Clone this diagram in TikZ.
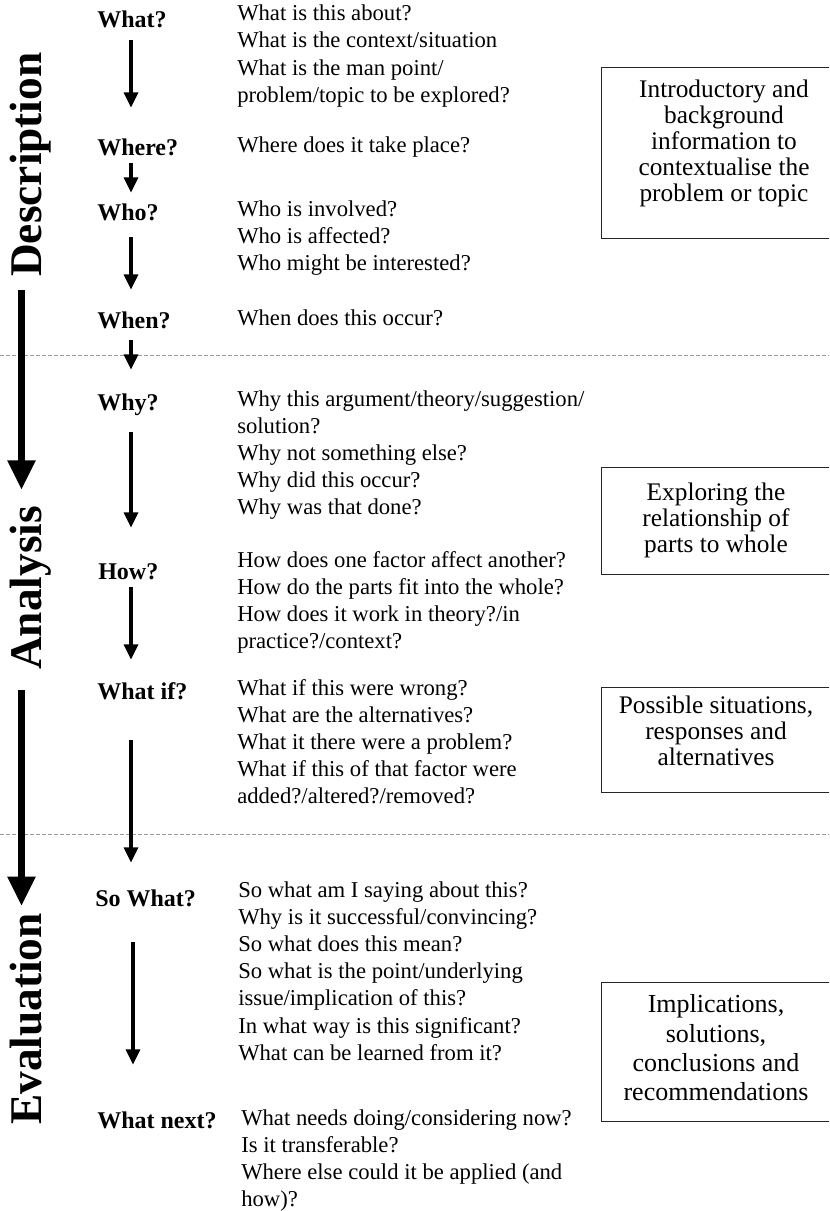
\documentclass[tikz,border=0pt]{standalone}
\usepackage{fontspec}
\setmainfont{Liberation Serif}
\usetikzlibrary{arrows.meta,calc}
\begin{document}
\begin{tikzpicture}[x=0.75pt,y=-0.75pt,
  stage/.style={rotate=90, anchor=base west, inner sep=0pt,
    font=\fontsize{34}{40}\selectfont\bfseries},
  question/.style={anchor=base west, inner sep=0pt, text height=13pt, text depth=0pt,
    font=\fontsize{18}{21}\selectfont\bfseries},
  % multi-line nodes sit on the baseline of their last line
  answers/.style={anchor=base west, inner sep=0pt, align=left,
    font=\fontsize{17}{20.4}\selectfont},
  summary/.style={anchor=base, inner sep=0pt, align=center,
    font=\fontsize{19}{19.5}\selectfont},
  infobox/.style={draw=black!85, line width=1.1pt, anchor=north west, inner sep=0pt,
    minimum width=185.25pt},
  stagearrow/.style={line width=5pt, -{Triangle[width=20pt,length=22pt]}},
  qarrow/.style={line width=2.4pt, -{Triangle[width=10.5pt,length=11.5pt]}},
  divider/.style={draw=black!40, line width=0.75pt, dash pattern=on 3pt off 1.5pt}
]
\clip (0,0) rectangle (829,1211);

% section dividers
\draw[divider] (0,355) -- (829,355);
\draw[divider] (0,834) -- (829,834);

% stage labels down the left margin
\node[stage] (desc) at (41,277) {Description};
\node[stage] (anal) at (41,670) {Analysis};
\node[stage] (eval) at (41,1125) {Evaluation};
\draw[stagearrow] ($(desc.base west)+(-19.5,13)$) -- ($(anal.base east)+(-19.5,-16)$);
\draw[stagearrow] ($(anal.base west)+(-19.5,20)$) -- ($(eval.base east)+(-19.5,-7)$);

% guiding questions
\coordinate (ax) at (131,0);
\node[question] (what)   at (97,27)   {What?};
\node[question] (where)  at (97,155)  {Where?};
\node[question] (who)    at (97,220)  {Who?};
\node[question] (when)   at (97,328)  {When?};
\node[question] (why)    at (97,410)  {Why?};
\node[question] (how)    at (98,579)  {How?};
\node[question] (whatif) at (97,699)  {What if?};
\node[question] (sowhat) at (95,906)  {So What?};
\node[question] (next)   at (97,1128) {What next?};

\draw[qarrow] ($(what.south-|ax)+(0,13)$)   -- ($(where.north-|ax)+(0,-29.7)$);
\draw[qarrow] ($(where.south-|ax)+(0,8)$)   -- ($(who.north-|ax)+(0,-9.7)$);
\draw[qarrow] ($(who.south-|ax)+(0,17)$)    -- ($(when.north-|ax)+(0,-20.7)$);
\draw[qarrow] ($(when.south-|ax)+(0,12)$)   -- ($(why.north-|ax)+(0,-22.7)$);
\draw[qarrow] ($(why.south-|ax)+(0,22)$)    -- ($(how.north-|ax)+(0,-33.7)$);
\draw[qarrow] ($(how.south-|ax)+(0,8)$)     -- ($(whatif.north-|ax)+(0,-21.7)$);
\draw[qarrow] ($(whatif.south-|ax)+(0,41)$) -- ($(sowhat.north-|ax)+(0,-25.7)$);
\draw[qarrow] ($(sowhat.south-|ax)+(2,36)$) -- ($(next.north-|ax)+(2,-45.7)$);

% prompts for each question (first baseline + (lines-1) x 27.2)
\node[answers] (whatq) at (237,{20.7+3*27.2}) {What is this about?\\What is the context/situation\\What is the man point/\\problem/topic to be explored?};
\node[answers] (whereq) at (237,152) {Where does it take place?};
\node[answers] (whoq) at (237,{216+2*27.2}) {Who is involved?\\Who is affected?\\Who might be interested?};
\node[answers] (whenq) at (237,325) {When does this occur?};
\node[answers] (whyq) at (237,{406+4*27.2}) {Why this argument/theory/suggestion/\\solution?\\Why not something else?\\Why did this occur?\\Why was that done?};
\node[answers] (howq) at (237,{567+3*27.2}) {How does one factor affect another?\\How do the parts fit into the whole?\\How does it work in theory?/in\\practice?/context?};
\node[answers] (whatifq) at (237,{695+4*27.2}) {What if this were wrong?\\What are the alternatives?\\What it there were a problem?\\What if this of that factor were\\added?/altered?/removed?};
\node[answers] (sowhatq) at (238,{897+6*27.2}) {So what am I saying about this?\\Why is it successful/convincing?\\So what does this mean?\\So what is the point/underlying\\issue/implication of this?\\In what way is this significant?\\What can be learned from it?};
\node[answers] (nextq) at (241,{1125+3*27.2}) {What needs doing/considering now?\\Is it transferable?\\Where else could it be applied (and\\how)?};

% summary boxes on the right (first baseline + (lines-1) x line spacing)
\node[infobox, minimum height=128.25pt] (box1) at (601,67) {};
\node[summary] (sum1) at (724,{97+4*26}) {Introductory and\\background\\information to\\contextualise the\\problem or topic};
\node[infobox, minimum height=80.25pt] (box2) at (601,467) {};
\node[summary] (sum2) at (716,{500+2*26}) {Exploring the\\relationship of\\parts to whole};
\node[infobox, minimum height=78.75pt] (box3) at (601,687) {};
\node[summary] (sum3) at (716,{713+2*26}) {Possible situations,\\responses and\\alternatives};
\node[infobox, minimum height=104.25pt] (box4) at (601,982) {};
\node[summary, font=\fontsize{19.5}{22}\selectfont] (sum4) at (716,{1013+3*29.3}) {Implications,\\solutions,\\conclusions and\\recommendations};
\end{tikzpicture}
\end{document}
